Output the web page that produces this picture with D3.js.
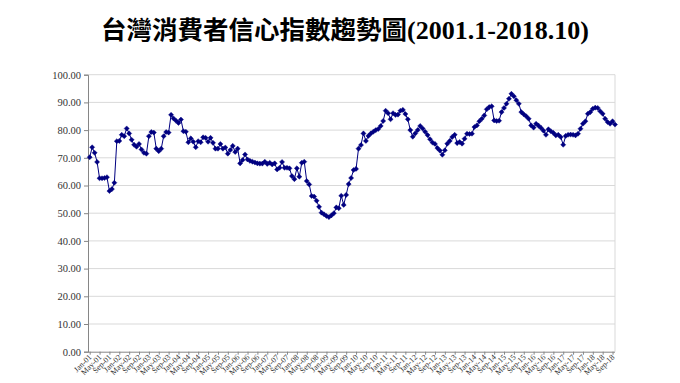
<!DOCTYPE html>
<html><head><meta charset="utf-8">
<script src="https://cdn.jsdelivr.net/npm/d3@7"></script>
<style>
html,body{margin:0;padding:0;background:#fff;}
svg{display:block;}
</style></head>
<body>
<svg id="c" width="680" height="383"></svg>
<script>
const titleCJK = "台灣消費者信心指數趨勢圖";
const titleLatin = "(2001.1-2018.10)";
const startYear = 2001;
const monthNames = ["Jan","Feb","Mar","Apr","May","Jun","Jul","Aug","Sep","Oct","Nov","Dec"];
const cci = [
70.2,73.8,71.8,68.5,62.6,62.6,62.7,63.0,58.0,58.7,61.0,76.0,
76.1,78.3,77.8,80.6,78.8,76.5,74.7,74.0,75.0,73.0,71.8,71.5,
77.8,79.3,79.1,73.3,72.4,73.3,77.8,79.3,79.1,85.5,84.2,83.4,
82.6,83.8,79.6,79.4,75.6,77.0,75.8,73.8,76.0,75.6,77.4,77.2,
75.8,77.2,75.4,73.3,73.3,75.0,73.3,73.7,71.5,72.8,74.3,72.1,
73.3,68.0,69.2,71.2,69.4,68.9,68.6,68.3,68.0,67.9,67.9,68.6,
67.8,68.2,67.6,68.0,65.8,66.4,68.5,66.4,66.4,66.2,63.4,62.3,
66.2,63.2,68.2,68.6,61.6,60.4,56.2,56.0,54.5,52.3,50.2,49.6,
49.0,48.6,49.2,50.0,52.1,51.8,56.3,53.0,56.6,60.5,62.7,65.6,
66.0,73.3,74.6,78.8,76.1,77.9,78.8,79.4,80.0,80.4,81.5,83.3,
87.0,86.1,83.9,86.1,85.5,85.6,87.0,87.3,85.8,83.9,80.0,77.6,
78.8,80.0,81.5,80.6,79.4,78.2,76.7,75.5,75.0,73.5,72.6,71.1,
72.7,75.1,76.1,77.5,78.3,75.3,75.7,75.1,76.9,78.7,78.6,78.7,
81.1,81.7,83.2,84.1,85.3,87.5,88.3,88.6,83.5,83.3,83.4,86.5,
88.0,89.5,91.3,93.1,92.2,90.8,89.5,86.5,85.7,85.0,84.1,81.7,
80.9,82.3,81.6,80.8,79.8,78.3,80.3,79.6,79.0,78.1,78.3,77.5,
74.7,77.9,78.3,78.4,78.3,78.1,78.7,80.5,82.3,83.2,85.9,86.5,
87.7,88.1,88.0,86.8,85.9,84.1,82.9,82.3,83.2,82.0
];
const yTicks = [0,10,20,30,40,50,60,70,80,90,100];
const labelEvery = 4;

(function () {
// category labels (Mon-YY), one per month
const categories = cci.map((_, i) => {
  const yr = startYear + Math.floor(i / 12);
  return monthNames[i % 12] + "-" + String(yr % 100).padStart(2, "0");
});

const svg = d3.select("#c");
const pL = 88, pR = 615, pT = 74.7, pB = 351.7;

const x = d3.scalePoint().domain(categories).range([89.7, 615]);
const y = d3.scaleLinear().domain([0, 100]).range([pB, pT]);

// title
const t = svg.append("text").attr("x", 345).attr("y", 39).attr("text-anchor", "middle")
  .attr("fill", "#000");
t.append("tspan").text(titleCJK)
  .attr("font-family", "'Noto Sans CJK TC','Noto Sans CJK SC',sans-serif")
  .attr("font-weight", 700).attr("font-size", 25.5);
t.append("tspan").text(titleLatin)
  .attr("font-family", "'Liberation Serif','DejaVu Serif',serif")
  .attr("font-weight", 700).attr("font-size", 26);

// gridlines
svg.append("g").selectAll("line").data(yTicks.filter(d => d > 0)).join("line")
  .attr("x1", pL).attr("x2", pR)
  .attr("y1", d => y(d)).attr("y2", d => y(d))
  .attr("stroke", "#d9d9d9").attr("stroke-width", 1);
// right border
svg.append("line").attr("x1", pR).attr("x2", pR).attr("y1", pT).attr("y2", pB)
  .attr("stroke", "#d9d9d9");

// y axis
const yAxis = svg.append("g").attr("transform", `translate(${pL},0)`)
  .call(d3.axisLeft(y).tickValues(yTicks).tickFormat(d3.format(".2f")).tickSize(4).tickPadding(3));
yAxis.select(".domain").attr("stroke", "#868686");
yAxis.selectAll(".tick line").attr("stroke", "#868686");
yAxis.selectAll("text").attr("font-family", "'Liberation Serif','DejaVu Serif',serif")
  .attr("font-size", 10.5).attr("fill", "#333");

// x axis
const xTickVals = categories.filter((_, i) => i % labelEvery === 0);
const xAxis = svg.append("g").attr("transform", `translate(0,${pB})`)
  .call(d3.axisBottom(x).tickValues(xTickVals).tickSize(3).tickSizeOuter(0));
xAxis.select(".domain").attr("stroke", "#868686").attr("d", `M${pL},0.5H${pR}`);
xAxis.selectAll(".tick line").attr("stroke", "#868686");
xAxis.selectAll("text")
  .attr("font-family", "'Liberation Serif','DejaVu Serif',serif")
  .attr("font-size", 8).attr("fill", "#333")
  .attr("text-anchor", "end")
  .attr("dy", null).attr("y", 0)
  .attr("transform", "translate(2,6) rotate(-45)");

// line
const line = d3.line().x((d, i) => x(categories[i])).y(d => y(d));
svg.append("path").datum(cci).attr("d", line)
  .attr("fill", "none").attr("stroke", "#000080").attr("stroke-width", 1);

// markers: square symbols rotated 45° (Excel-style diamonds)
const sym = d3.symbol().type(d3.symbolSquare).size(13);
svg.append("g").selectAll("path").data(cci).join("path")
  .attr("d", sym)
  .attr("transform", (d, i) => `translate(${x(categories[i])},${y(d)}) rotate(45)`)
  .attr("fill", "#000080").attr("stroke", "#000080").attr("stroke-width", 0.4);
})();
</script>
</body></html>
